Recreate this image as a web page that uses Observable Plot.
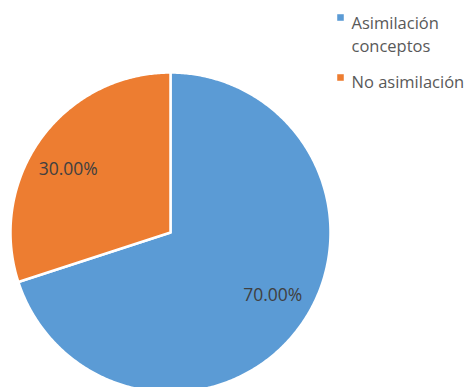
<!DOCTYPE html>
<html>
<head>
<meta charset="utf-8">
<script src="https://cdn.jsdelivr.net/npm/d3@7"></script>
<script src="https://cdn.jsdelivr.net/npm/@observablehq/plot@0.6"></script>
<style>
  html, body { margin: 0; padding: 0; background: #fff; }
  #chart { width: 468px; height: 387px; overflow: hidden; }
</style>
</head>
<body>
<div id="chart"></div>
<script>
const categories = ["Asimilación conceptos", "No asimilación"];
const values = [70, 30];
const legendLabels = ["Asimilación\nconceptos", "No asimilación"];
const colors = ["#5B9BD5", "#ED7D31"];

const arcs = d3.pie().sort(null).value(d => d.value)(
  categories.map((name, i) => ({name, value: values[i]}))
);

const total = d3.sum(values);
const slicePts = [];
for (const a of arcs) {
  const name = a.data.name;
  slicePts.push({name, x: 0, y: 0});
  const n = Math.max(2, Math.ceil((a.endAngle - a.startAngle) / 0.01));
  for (let k = 0; k <= n; k++) {
    const t = a.startAngle + (a.endAngle - a.startAngle) * k / n;
    slicePts.push({name, x: Math.sin(t), y: Math.cos(t)});
  }
  slicePts.push({name, x: 0, y: 0});
}

const labelRx = 0.79, labelRy = 0.67;
const labels = arcs.map(a => {
  const m = (a.startAngle + a.endAngle) / 2;
  return {x: labelRx * Math.sin(m), y: labelRy * Math.cos(m), text: (a.data.value / total * 100).toFixed(2) + "%"};
});

const legendMarks = categories.flatMap((c, i) => [
  Plot.dot([c], {frameAnchor: "top-left", dx: 340, dy: 17 + i * 60, symbol: "square", r: 3.7, fill: colors[i], stroke: null}),
  Plot.text([legendLabels[i]], {frameAnchor: "top-left", dx: 351, dy: 12.3 + i * 59, text: d => d, textAnchor: "start", lineAnchor: "top", lineHeight: 1.38, fontSize: 16.5, fill: "#595959"})
]);

const chart = Plot.plot({
  width: 468,
  height: 387,
  margin: 0,
  style: {fontFamily: "'Open Sans', sans-serif", fontSize: "16.5px", background: "white"},
  x: {domain: [-1, 1], range: [10, 330], axis: null},
  y: {domain: [-1, 1], range: [392, 72], axis: null},
  color: {domain: categories, range: colors},
  marks: [
    Plot.line(slicePts, {x: "x", y: "y", z: "name", fill: "name", stroke: "white", strokeWidth: 2.5, curve: "linear"}),
    Plot.text(labels, {x: "x", y: "y", text: "text", fontSize: 17.5, fill: "#404040"}),
    ...legendMarks
  ]
});
document.getElementById("chart").appendChild(chart);
</script>
</body>
</html>
